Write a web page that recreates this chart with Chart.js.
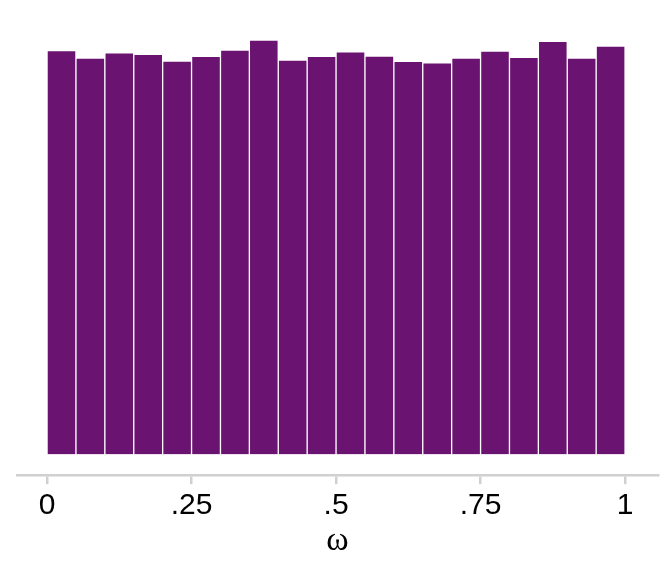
<!DOCTYPE html>
<html>
<head>
<meta charset="utf-8">
<script src="https://cdn.jsdelivr.net/npm/chart.js@4/dist/chart.umd.min.js"></script>
<style>
  html, body { margin: 0; padding: 0; background: #fff; }
  #wrap { width: 672px; height: 576px; }
</style>
</head>
<body>
<div id="wrap"><canvas id="grafico" width="672" height="576"></canvas></div>
<script>
// ===== DADOS =====
const binCenters = [0.025, 0.075, 0.125, 0.175, 0.225, 0.275, 0.325, 0.375, 0.425, 0.475,
                    0.525, 0.575, 0.625, 0.675, 0.725, 0.775, 0.825, 0.875, 0.925, 0.975];
const counts = [40.35, 39.6, 40.13, 39.97, 39.3, 39.77, 40.4, 41.4, 39.4, 39.77,
                40.23, 39.8, 39.27, 39.13, 39.6, 40.3, 39.67, 41.27, 39.6, 40.8];
const tickValues = [0, 0.25, 0.5, 0.75, 1];
const tickLabels = ["0", ".25", ".5", ".75", "1"];

const pontos = binCenters.map((x, i) => ({ x: x, y: counts[i] }));

// ===== GRÁFICO =====
new Chart(document.getElementById("grafico"), {
  type: "bar",
  data: {
    datasets: [{
      data: pontos,
      backgroundColor: "#6a1370",
      borderColor: "#ffffff",
      borderWidth: 1,
      barPercentage: 1,
      categoryPercentage: 1
    }]
  },
  options: {
    responsive: false,
    animation: false,
    layout: { padding: { left: 17, right: 14, top: 40, bottom: 15 } },
    plugins: { legend: { display: false }, tooltip: { enabled: false } },
    scales: {
      x: {
        type: "linear",
        offset: false,
        min: -0.052,
        max: 1.057,
        afterBuildTicks: axis => { axis.ticks = tickValues.map(v => ({ value: v })); },
        ticks: {
          autoSkip: false,
          maxRotation: 0,
          color: "#000",
          padding: 4,
          font: { family: "Liberation Sans, Arial, sans-serif", size: 30 },
          callback: v => tickLabels[tickValues.indexOf(v)]
        },
        grid: { offset: false, drawOnChartArea: false, drawTicks: true, tickLength: 9, color: "#d0d0d0", lineWidth: 2.5 },
        border: { display: true, color: "#d0d0d0", width: 2.5 },
        title: {
          display: true,
          text: "ω",
          color: "#000",
          padding: { top: -8, bottom: 0 },
          font: { family: "Liberation Serif, serif", size: 34 }
        }
      },
      y: {
        display: false,
        min: -2.1,
        max: 41.4
      }
    }
  }
});
</script>
</body>
</html>
